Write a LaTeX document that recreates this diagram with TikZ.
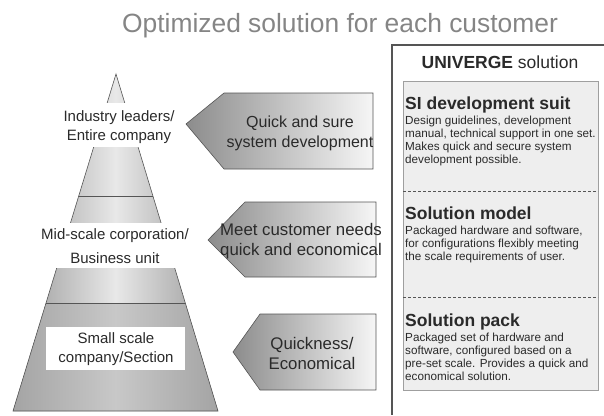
\documentclass[tikz,border=0pt]{standalone}
\usepackage{fontspec}
\setmainfont{Liberation Sans}
\definecolor{titlegray}{HTML}{858585}
\definecolor{edge}{HTML}{555555}
\definecolor{pyrdark}{HTML}{979797}
\definecolor{pyrlight}{HTML}{E8E8E8}
\definecolor{botdark}{HTML}{A4A4A4}
\definecolor{botlight}{HTML}{C8C8C8}
\definecolor{arrdark}{HTML}{8C8C8C}
\definecolor{arrlight}{HTML}{F6F6F6}
\definecolor{panel}{HTML}{EEEEEE}
\definecolor{ink}{HTML}{2A2A2A}
\tikzset{
  pyrtext/.style={text=ink, align=center, inner sep=0pt, font=\fontsize{15}{19}\selectfont},
  arrtext/.style={text=ink, align=center, inner sep=0pt, font=\fontsize{16}{20}\selectfont},
  arrowbox/.style={left color=arrdark, right color=arrlight, draw=edge, line width=0.6pt},
  head/.style={text=ink, anchor=base west, inner sep=0pt, font=\fontsize{17.5}{20}\selectfont\bfseries},
  body/.style={text=ink, anchor=north west, align=left, inner sep=0pt, font=\fontsize{11.7}{13}\selectfont},
}
\begin{document}
\begin{tikzpicture}[x=1pt,y=-1pt]
\useasboundingbox (0,0) rectangle (604,415);
% title
\node[anchor=base, inner sep=0pt, text=titlegray, font=\fontsize{26.4}{30}\selectfont] (title) at (340,32) {Optimized solution for each customer};
% pyramid
\coordinate (apex) at (116,74);
\coordinate (bl) at (13,411);
\coordinate (br) at (218,411);
\shade[left color=pyrdark, right color=pyrdark, middle color=pyrlight] (apex) -- (br) -- (bl) -- cycle;
\shade[left color=botdark, right color=botdark, middle color=botlight] (46,303) -- (185.3,303) -- (br) -- (bl) -- cycle;
\draw[edge, line width=0.6pt] (bl) -- (apex) -- (br) -- cycle;
\draw[edge, line width=0.6pt] (78.7,196) -- (152.9,196);
\draw[edge, line width=0.6pt] (46,303) -- (185.3,303);
\fill[white] (30,103) rectangle (184,147);
\fill[white] (10,223) rectangle (202,268);
\fill[white] (46,327) rectangle (185,370);
\node[pyrtext] (lead) at (119,127.5) {Industry leaders/\\Entire company};
\node[pyrtext, font=\fontsize{15}{24}\selectfont] (mid) at (115,246) {Mid-scale corporation/\\Business unit};
\node[pyrtext] (small) at (116,349.5) {Small scale\\company/Section};
% arrows
\shadedraw[arrowbox] (186,124) -- (224,93) -- (373,93) -- (373,169) -- (224,169) -- cycle;
\shadedraw[arrowbox] (208,240) -- (245,202) -- (376,202) -- (376,277) -- (245,277) -- cycle;
\shadedraw[arrowbox] (233,352) -- (260,314) -- (376,314) -- (376,390) -- (260,390) -- cycle;
\node[arrtext] (a1) at (300,133.5) {Quick and sure\\system development};
\node[arrtext, font=\fontsize{16.8}{20}\selectfont] (a2) at (301,241) {Meet customer needs\\quick and economical};
\node[arrtext, font=\fontsize{16.8}{20}\selectfont] (a3) at (312,353) {Quickness/\\Economical};
% right panel
\draw[edge, line width=1.4pt] (604,45) -- (392,45) -- (392,415);
\filldraw[fill=panel, draw=gray!75, line width=0.7pt] (403,81) rectangle (598,390);
\draw[edge, line width=0.6pt, dash pattern=on 3pt off 2pt] (403,191) -- (598,191);
\draw[edge, line width=0.6pt, dash pattern=on 3pt off 2pt] (403,297) -- (598,297);
\node[anchor=base, inner sep=0pt, text=ink, font=\fontsize{17.5}{20}\selectfont] (univ) at (500,68) {\textbf{UNIVERGE} solution};
\node[head] (h1) at (405,109) {SI development suit};
\node[body] (b1) at (405,115.5) {Design guidelines, development\\manual, technical support in one set.\\Makes quick and secure system\\development possible.};
\node[head] (h2) at (405,219) {Solution model};
\node[body] (b2) at (405,225.5) {Packaged hardware and software,\\for configurations flexibly meeting\\the scale requirements of user.};
\node[head] (h3) at (405,326) {Solution pack};
\node[body] (b3) at (405,332.5) {Packaged set of hardware and\\software, configured based on a\\pre-set scale. Provides a quick and\\economical solution.};
\end{tikzpicture}
\end{document}
